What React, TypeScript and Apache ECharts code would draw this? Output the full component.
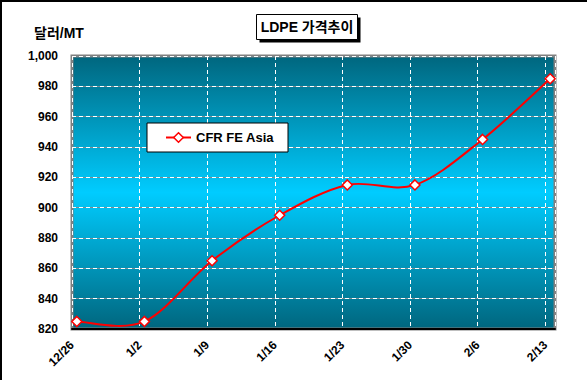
import React, { useEffect, useRef } from "react";
import * as echarts from "echarts";

const dateLabels = ["12/26", "1/2", "1/9", "1/16", "1/23", "1/30", "2/6", "2/13"];
const dayOffsets = [0, 7, 14, 21, 28, 35, 42, 49];
const cfrFeAsia = [825, 825, 865, 895, 915, 915, 945, 985];
const seriesName = "CFR FE Asia";
const titleText = "LDPE 가격추이";
const unitText = "달러/MT";

const FONT = 'Arial, "Liberation Sans", "Noto Sans CJK KR", sans-serif';

export default function App() {
  const ref = useRef<HTMLDivElement>(null);
  useEffect(() => {
    document.body.style.margin = "0";
    if (!ref.current) return;
    const chart = echarts.init(ref.current, null, { renderer: "svg" });
    // Excel date axis "between tick marks": each point at the centre of its day
    const data = dayOffsets.map((d, i) => [d + 0.5, cfrFeAsia[i]]);

    // Excel-style smoothed line (Bezier, tension 1/6) through the points
    const renderCurve = (params: any, api: any) => {
      if (params.dataIndex !== 0) return null;
      const p = data.map((d) => api.coord(d) as number[]);
      const n = p.length;
      let d = `M${p[0][0]},${p[0][1]}`;
      for (let i = 0; i < n - 1; i++) {
        const p0 = p[Math.max(i - 1, 0)];
        const p1 = p[i];
        const p2 = p[i + 1];
        const p3 = p[Math.min(i + 2, n - 1)];
        const c1x = p1[0] + (p2[0] - p0[0]) / 6;
        const c1y = p1[1] + (p2[1] - p0[1]) / 6;
        const c2x = p2[0] - (p3[0] - p1[0]) / 6;
        const c2y = p2[1] - (p3[1] - p1[1]) / 6;
        d += ` C${c1x},${c1y} ${c2x},${c2y} ${p2[0]},${p2[1]}`;
      }
      return {
        type: "path",
        shape: { pathData: d },
        style: { stroke: "#ff0000", lineWidth: 2, fill: "none" },
      };
    };

    const yCommon = {
      type: "value",
      min: 820,
      max: 1000,
      interval: 20,
      axisLine: { show: false },
      axisTick: { show: false },
    };

    chart.setOption({
      animation: false,
      backgroundColor: "#ffffff",
      grid: {
        left: 72,
        top: 56,
        right: 32,
        bottom: 51,
        show: true,
        borderColor: "#808080",
        borderWidth: 3,
        backgroundColor: new echarts.graphic.LinearGradient(0, 0, 0, 1, [
          { offset: 0, color: "#00667e" },
          { offset: 0.5, color: "#00ccff" },
          { offset: 1, color: "#00667e" },
        ]),
      },
      legend: {
        left: 147,
        top: 123,
        backgroundColor: "#ffffff",
        borderColor: "#000000",
        borderWidth: 1,
        padding: [8, 14, 8, 18],
        itemWidth: 25,
        itemHeight: 12,
        textStyle: { fontFamily: FONT, fontWeight: "bold", fontSize: 13, color: "#000" },
        data: [
          {
            name: seriesName,
            lineStyle: { color: "#ff0000", width: 2, opacity: 1 },
            itemStyle: { color: "#ffffff", borderColor: "#ff0000", borderWidth: 1.5 },
          },
        ],
      },
      xAxis: {
        type: "value",
        min: 0,
        max: 50,
        interval: 7,
        axisLine: { show: true, lineStyle: { color: "#000", width: 2 } },
        axisTick: { show: false },
        axisLabel: {
          rotate: 45,
          margin: 14,
          fontFamily: FONT,
          fontWeight: "bold",
          fontSize: 12,
          color: "#000",
          showMaxLabel: false,
          formatter: (v: number) => {
            const i = dayOffsets.indexOf(v);
            return i >= 0 ? dateLabels[i] : "";
          },
        },
        splitLine: { show: true, lineStyle: { color: "#ffffff", type: [4, 3], width: 1 } },
      },
      yAxis: [
        {
          ...yCommon,
          axisLabel: {
            margin: 14,
            fontFamily: FONT,
            fontWeight: "bold",
            fontSize: 12,
            color: "#000",
            formatter: (v: number) => v.toLocaleString("en-US"),
          },
          splitLine: { show: true, lineStyle: { color: "#7f8c90", width: 1 } },
        },
        {
          ...yCommon,
          position: "left",
          axisLabel: { show: false },
          splitLine: { show: true, lineStyle: { color: "#ffffff", type: [4, 3], width: 1 } },
        },
      ],
      series: [
        {
          name: seriesName + " curve",
          type: "custom",
          renderItem: renderCurve,
          data: [data[0]],
          z: 2,
          silent: true,
        },
        {
          name: seriesName,
          type: "line",
          data,
          z: 3,
          symbol: "diamond",
          symbolSize: 10,
          showSymbol: true,
          lineStyle: { color: "#ff0000", width: 2, opacity: 0 },
          itemStyle: { color: "#ffffff", borderColor: "#ff0000", borderWidth: 1.5 },
        },
      ],
      graphic: [
        { type: "rect", shape: { x: 0, y: 0, width: 587, height: 2 }, style: { fill: "#000" } },
        { type: "rect", shape: { x: 0, y: 0, width: 2, height: 380 }, style: { fill: "#000" } },
        { type: "rect", shape: { x: 259.5, y: 17.5, width: 101, height: 25 }, style: { fill: "#000" } },
        {
          type: "rect",
          shape: { x: 256.5, y: 14.5, width: 101, height: 25 },
          style: { fill: "#fff", stroke: "#000", lineWidth: 1 },
        },
        {
          type: "text",
          x: 307,
          y: 27,
          style: {
            text: titleText,
            fontFamily: FONT,
            fontWeight: "bold",
            fontSize: 14,
            fill: "#000",
            align: "center",
            verticalAlign: "middle",
          },
        },
        {
          type: "text",
          x: 34,
          y: 33,
          style: {
            text: unitText,
            fontFamily: FONT,
            fontWeight: "bold",
            fontSize: 14,
            fill: "#000",
            align: "left",
            verticalAlign: "middle",
          },
        },
      ],
    });
    return () => chart.dispose();
  }, []);
  return <div ref={ref} style={{ width: 587, height: 380 }} />;
}
